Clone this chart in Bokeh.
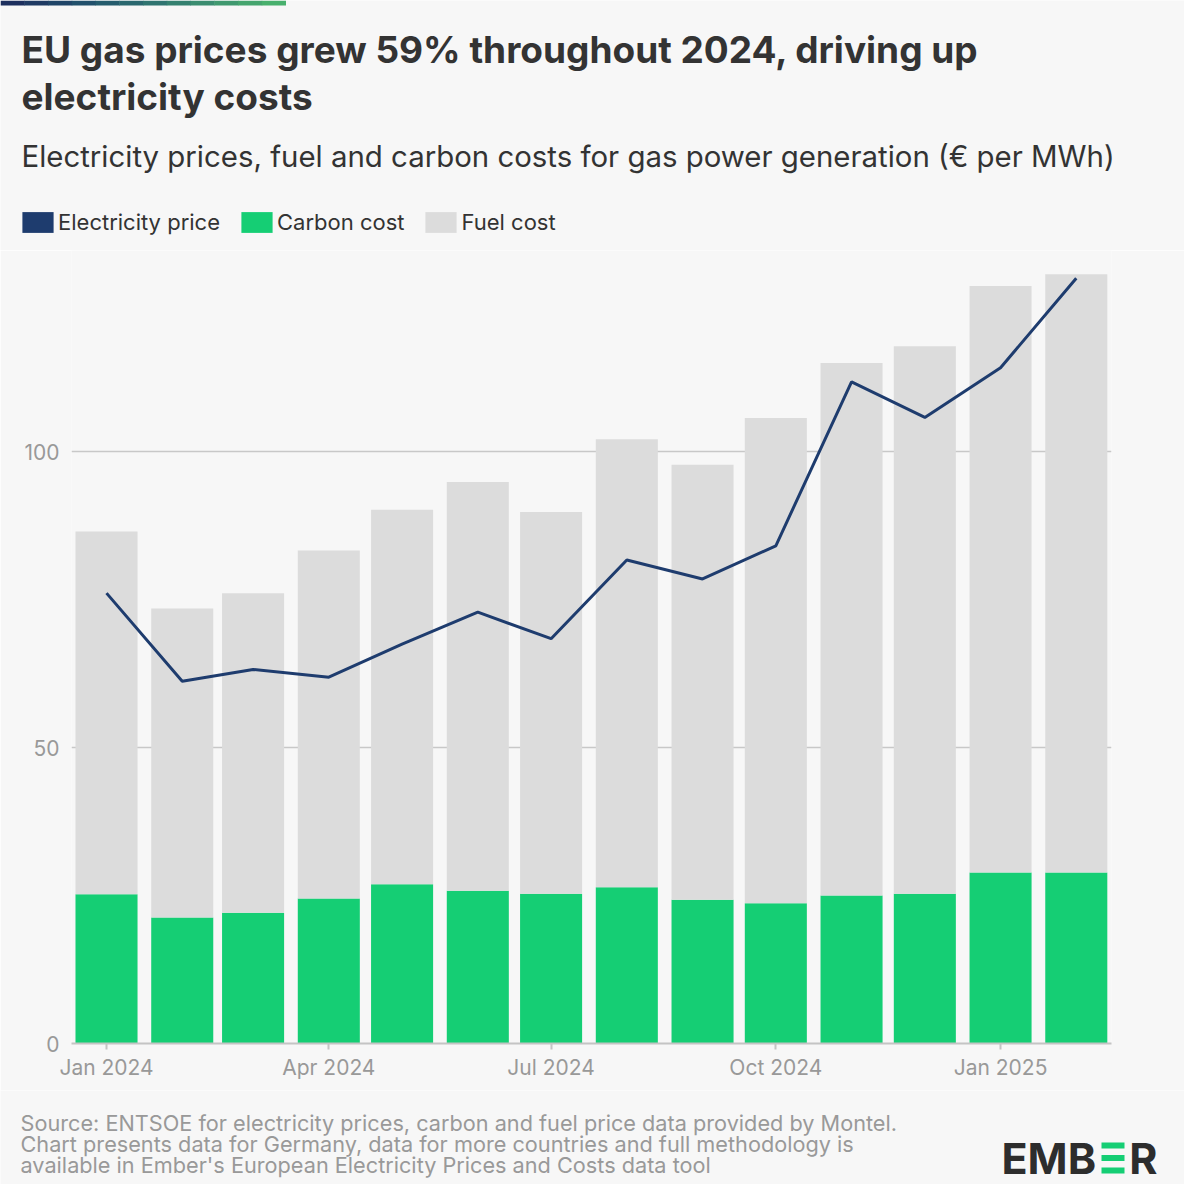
from datetime import datetime
from bokeh.plotting import figure
from bokeh.layouts import column
from bokeh.models import (ColumnDataSource, Range1d, FixedTicker, DatetimeTickFormatter,
                          Label, Legend, LegendItem)
from bokeh.embed import file_html
from bokeh.resources import INLINE

# ---------------- data ----------------
months = ["2024-01", "2024-02", "2024-03", "2024-04", "2024-05", "2024-06", "2024-07",
          "2024-08", "2024-09", "2024-10", "2024-11", "2024-12", "2025-01", "2025-02"]
carbon_cost = [25.2, 21.3, 22.1, 24.5, 26.9, 25.8, 25.3, 26.4, 24.3, 23.7, 25.0, 25.3, 28.9, 28.9]
fuel_cost = [61.3, 52.2, 54.0, 58.8, 63.3, 69.1, 64.5, 75.7, 73.5, 82.0, 90.0, 92.5, 99.1, 101.1]
electricity_price = [76.1, 61.2, 63.2, 61.9, 67.5, 72.9, 68.4, 81.7, 78.5, 84.1, 111.8, 105.8, 114.2, 129.3]
tick_months = ["2024-01", "2024-04", "2024-07", "2024-10", "2025-01"]
y_ticks = [0, 50, 100]
series_names = ["Electricity price", "Carbon cost", "Fuel cost"]

title_lines = ["EU gas prices grew 59% throughout 2024, driving up", "electricity costs"]
subtitle = "Electricity prices, fuel and carbon costs for gas power generation (€ per MWh)"
source_lines = [
    "Source: ENTSOE for electricity prices, carbon and fuel price data provided by Montel.",
    "Chart presents data for Germany, data for more countries and full methodology is",
    "available in Ember's European Electricity Prices and Costs data tool",
]

# ---------------- styling ----------------
BG = "#f7f7f7"
GREEN = "#15ce74"
GREY = "#dcdcdc"
NAVY = "#1e3c6e"
DARK = "#333333"
MUTED = "#999999"
FONT = "Inter"
W = 1184
H_HEAD, H_CHART, H_FOOT = 250, 840, 94


def panel(height, y_top):
    f = figure(width=W, height=height, x_range=Range1d(0, W),
               y_range=Range1d(y_top + height, y_top),
               output_backend="svg", toolbar_location=None,
               x_axis_location=None, y_axis_location=None,
               min_border=0, min_border_left=0, min_border_right=0,
               min_border_top=0, min_border_bottom=0, frame_align=False)
    f.background_fill_color = BG
    f.border_fill_color = BG
    f.outline_line_color = None
    f.grid.visible = False
    return f


def add_label(f, text, x, baseline, size, color, style="normal", align="left"):
    # Bokeh places the alphabetic baseline ~0.37 em below the anchor
    f.add_layout(Label(x=x, y=baseline - 0.37 * size, text=text, text_font=FONT,
                       text_font_size=f"{size}px", text_font_style=style,
                       text_color=color, text_baseline="alphabetic", text_align=align))


# ---------------- header ----------------
head = panel(H_HEAD, 0)
stripe_colors = ["#1d2f5e", "#1f3a63", "#204568", "#21506b", "#255c6d", "#2a686f",
                 "#2f7470", "#358170", "#3b8d70", "#40996f", "#45a56e", "#48b06d"]
seg = 285 / len(stripe_colors)
head.quad(left=[i * seg for i in range(len(stripe_colors))],
          right=[(i + 1) * seg + 0.5 for i in range(len(stripe_colors))],
          top=[0] * len(stripe_colors), bottom=[5] * len(stripe_colors),
          fill_color=stripe_colors, line_color=None)
add_label(head, title_lines[0], 21, 63, 37, DARK, "bold")
add_label(head, title_lines[1], 21, 110, 37, DARK, "bold")
add_label(head, subtitle, 21, 167, 29.4, DARK)

nan = float("nan")
leg_rs = [head.vbar(x=[nan], top=[nan], width=1, fill_color=c, line_color=None)
          for c in (NAVY, GREEN, GREY)]
legend = Legend(items=[LegendItem(label=n, renderers=[r]) for n, r in zip(series_names, leg_rs)],
                orientation="horizontal", location=(18, 15),
                glyph_width=39, glyph_height=26, label_standoff=1, spacing=17,
                padding=0, margin=0, border_line_color=None, background_fill_alpha=0,
                label_text_font=FONT, label_text_font_size="22px", label_text_color=DARK)
head.add_layout(legend)

# ---------------- chart ----------------
dates = [datetime.strptime(m, "%Y-%m") for m in months]
src = ColumnDataSource(dict(date=dates, carbon=carbon_cost, fuel=fuel_cost, elec=electricity_price))

p = figure(width=W, height=H_CHART, x_axis_type="datetime",
           x_range=Range1d(datetime(2023, 12, 17, 16), datetime(2025, 2, 15, 10)),
           y_range=Range1d(0, 134),
           output_backend="svg", toolbar_location=None, frame_align=False,
           min_border_left=71, min_border_right=73, min_border_top=0, min_border_bottom=47)
p.background_fill_color = BG
p.border_fill_color = BG
p.outline_line_color = None

bar_w = 25.4 * 24 * 3600 * 1000
p.vbar_stack(["carbon", "fuel"], x="date", width=bar_w, source=src,
             fill_color=[GREEN, GREY], line_color=None)
p.line(x="date", y="elec", source=src, line_color=NAVY, line_width=3)

p.xgrid.grid_line_color = None
p.yaxis.ticker = FixedTicker(ticks=y_ticks)
p.ygrid.grid_line_color = "#c8c8c8"
p.ygrid.grid_line_width = 1.5
p.yaxis.axis_line_color = None
p.yaxis.major_tick_line_color = None
p.yaxis.major_tick_out = 0
p.yaxis.major_tick_in = 0
p.yaxis.minor_tick_line_color = None
p.yaxis.major_label_text_font = FONT
p.yaxis.major_label_text_font_size = "21px"
p.yaxis.major_label_text_color = MUTED
p.yaxis.major_label_standoff = 12

tick_ms = [datetime.strptime(m, "%Y-%m").timestamp() * 1000 for m in tick_months]
p.xaxis.ticker = FixedTicker(ticks=tick_ms)
fmt = "%b %Y"
p.xaxis.formatter = DatetimeTickFormatter(days=fmt, months=fmt, years=fmt, hours=fmt,
                                          hourmin=fmt, minutes=fmt)
p.xaxis.axis_line_color = "#c4c4c4"
p.xaxis.axis_line_width = 2
p.xaxis.major_tick_line_color = "#c4c4c4"
p.xaxis.major_tick_line_width = 2
p.xaxis.major_tick_in = 0
p.xaxis.major_tick_out = 6
p.xaxis.minor_tick_line_color = None
p.xaxis.major_label_text_font = FONT
p.xaxis.major_label_text_font_size = "21px"
p.xaxis.major_label_text_color = MUTED
p.xaxis.major_label_standoff = 5

# ---------------- footer ----------------
foot = panel(H_FOOT, H_HEAD + H_CHART)
for i, line in enumerate(source_lines):
    add_label(foot, line, 20, 1131 + 21 * i, 21.7, MUTED)
add_label(foot, "EMB", 1001, 1173, 43, "#2d2d2d", "bold")
add_label(foot, "R", 1157, 1173, 43, "#2d2d2d", "bold", "right")
foot.quad(left=[1101, 1101, 1101], right=[1124, 1124, 1124],
          top=[1142, 1154.5, 1167], bottom=[1148, 1160.5, 1173],
          fill_color=GREEN, line_color=None)

layout = column(head, p, foot, spacing=0)
open("out.html", "w").write(file_html(layout, INLINE))
